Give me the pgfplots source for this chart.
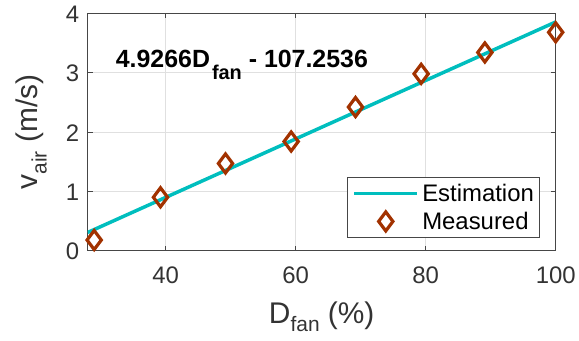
\documentclass[border=0pt]{standalone}
\usepackage{pgfplots}
\pgfplotsset{compat=1.18}
\usepackage{fontspec}
\setmainfont{Liberation Sans}
\definecolor{est}{RGB}{0,190,190}
\definecolor{meas}{RGB}{162,50,0}
\definecolor{axgray}{RGB}{70,70,70}
\pgfplotsset{
  estleg/.style={legend image code/.code={\path[draw=none] (0,0) -- (68bp,0); \draw[##1] (0bp,0bp) -- (63bp,0bp);}},
  measleg/.style={legend image code/.code={\path[draw=none] (0,0) -- (68bp,0); \path[draw=none] plot[##1] coordinates {(31.5bp,0bp)};}},
}
\begin{document}
\begin{tikzpicture}
\path[use as bounding box] (0,0) rectangle (579bp,341bp);
\begin{axis}[
  at={(87.7bp,90.3bp)}, anchor=south west,
  scale only axis, width=468bp, height=237.4bp,
  xmin=28, xmax=100, ymin=0, ymax=4,
  xtick={40,60,80,100}, ytick={0,1,2,3,4},
  grid=major, major grid style={draw=black!12, line width=0.6bp},
  axis line style={draw=axgray, line width=0.8bp},
  tick style={draw=axgray, line width=0.8bp},
  tick align=inside, major tick length=5bp,
  ticklabel style={font=\fontsize{24}{28}\selectfont, text=black!80},
  /pgf/number format/assume math mode=true,
  xticklabel style={yshift=-13bp},
  yticklabel style={xshift=-5bp, yshift=-1bp},
  xlabel={D\raisebox{-0.3em}{\fontsize{21}{21}\selectfont fan} (\%)},
  ylabel={v\raisebox{-0.3em}{\fontsize{21}{21}\selectfont air} (m/s)},
  xlabel style={font=\fontsize{30}{34}\selectfont, text=black!80, at={(axis description cs:0.5,0)}, anchor=base, yshift=-72.3bp, inner sep=0pt},
  ylabel style={font=\fontsize{30}{34}\selectfont, text=black!80, at={(axis description cs:0,0.5)}, anchor=base, yshift=50bp, inner sep=0pt},
  legend style={font=\fontsize{24}{28}\selectfont, draw=axgray, line width=0.8bp,
    at={(1,0)}, anchor=south east, xshift=-16.4bp, yshift=12.4bp,
    inner xsep=5bp, inner ysep=7bp, row sep=10bp,
    nodes={inner sep=0pt, text depth=0pt, text height=17bp}},
  legend cell align=left,
]
\addplot[est, line width=3.5bp, estleg]
  coordinates {(28,0.3072) (100,3.8541)};
\addlegendentry{Estimation}
\addplot[only marks, mark=diamond, mark size=9.5bp, mark options={draw=meas, line width=3.2bp, fill=white}, measleg]
  coordinates {(29,0.18) (39.2,0.90) (49.2,1.47) (59.3,1.84) (69.2,2.42) (79.3,2.98) (89.1,3.34) (100,3.68)};
\addlegendentry{Measured}
\node[anchor=base west, inner sep=0pt, font=\fontsize{25}{29}\selectfont\bfseries] at (axis cs:32.3,3.09)
  {4.9266D\hspace{2bp}\raisebox{-12bp}{\fontsize{20}{20}\selectfont fan} - 107.2536};
\end{axis}
\end{tikzpicture}
\end{document}
